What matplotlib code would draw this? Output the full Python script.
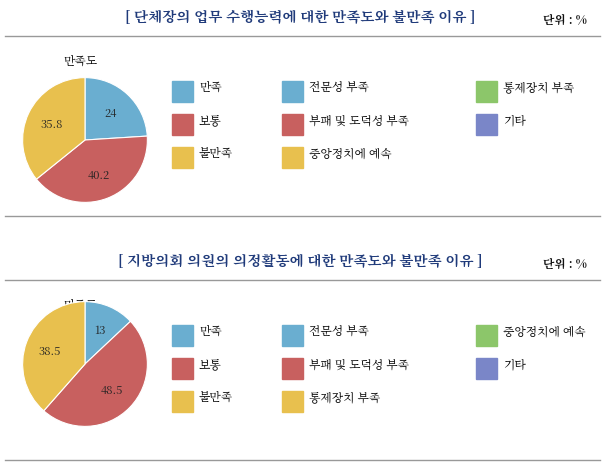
import numpy as np
import matplotlib.pyplot as plt
from matplotlib import font_manager as fm
from matplotlib.patches import Rectangle

# pick an installed CJK font
cjk = [f.name for f in fm.fontManager.ttflist if "CJK" in f.name]
kr = [n for n in cjk if "KR" in n]
plt.rcParams["font.family"] = (kr or cjk or ["DejaVu Sans"])[0]

# Data
titles = ["[ 단체장의 업무 수행능력에 대한 만족도와 불만족 이유 ]",
          "[ 지방의회 의원의 의정활동에 대한 만족도와 불만족 이유 ]"]
pie_values = [[24, 40.2, 35.8], [13, 48.5, 38.5]]
legend_labels = [
    ["만족", "전문성 부족", "통제장치 부족", "보통", "부패 및 도덕성 부족", "기타", "불만족", "중앙정치에 예속"],
    ["만족", "전문성 부족", "중앙정치에 예속", "보통", "부패 및 도덕성 부족", "기타", "불만족", "통제장치 부족"],
]

BLUE, RED, YEL, GRN, PUR = "#6aaed0", "#c8605f", "#e8c04e", "#8cc66a", "#7a86c8"
legend_colors = [BLUE, BLUE, GRN, RED, RED, PUR, YEL, YEL]

W, H = 605, 464
fig = plt.figure(figsize=(W / 100, H / 100), dpi=100)
bg = fig.add_axes([0, 0, 1, 1])
bg.set_xlim(0, W)
bg.set_ylim(H, 0)
bg.axis("off")

panel_top = [0, 244]
for p in range(2):
    y0 = panel_top[p]
    bg.text(300, y0 + 18, titles[p], color="#1f3a7a", fontsize=10.5,
            fontweight="bold", ha="center", va="center")
    bg.text(565, y0 + 20, "단위 : %", color="#111111", fontsize=8.5,
            fontweight="bold", ha="center", va="center")
    bg.plot([5, 600], [y0 + 37, y0 + 37], color="#999999", lw=1)
    bg.plot([5, 600], [y0 + 217, y0 + 217], color="#999999", lw=1)
    bg.text(80, y0 + 62, "만족도", fontsize=8.5, ha="center", va="center")

    # legend grid
    col_x = [172, 282, 476]
    row_y = [y0 + 92, y0 + 125, y0 + 158]
    for i, (lab, c) in enumerate(zip(legend_labels[p], legend_colors)):
        cx, cy = col_x[i % 3], row_y[i // 3]
        bg.add_patch(Rectangle((cx, cy - 10), 21, 21, color=c))
        bg.text(cx + 27, cy - 4, lab, fontsize=8.5, ha="left", va="center")

    # pie
    cx, r = 85, 63
    cy = y0 + 141 if p == 0 else y0 + 121
    ax = fig.add_axes([(cx - r) / W, 1 - (cy + r) / H, 2 * r / W, 2 * r / H])
    vals = pie_values[p]
    ax.pie(vals, colors=[BLUE, RED, YEL], startangle=90, counterclock=False,
           wedgeprops=dict(edgecolor="white", linewidth=0.8))
    total = sum(vals)
    ang = 90
    for v in vals:
        mid = np.deg2rad(ang - v / total * 360 / 2)
        ax.text(0.6 * np.cos(mid), 0.6 * np.sin(mid), f"{v:g}", fontsize=8,
                ha="center", va="center", color="#222222")
        ang -= v / total * 360
    ax.set_xlim(-1.01, 1.01)
    ax.set_ylim(-1.01, 1.01)
    ax.set_aspect("equal")

fig.savefig("out.png", dpi=100)
